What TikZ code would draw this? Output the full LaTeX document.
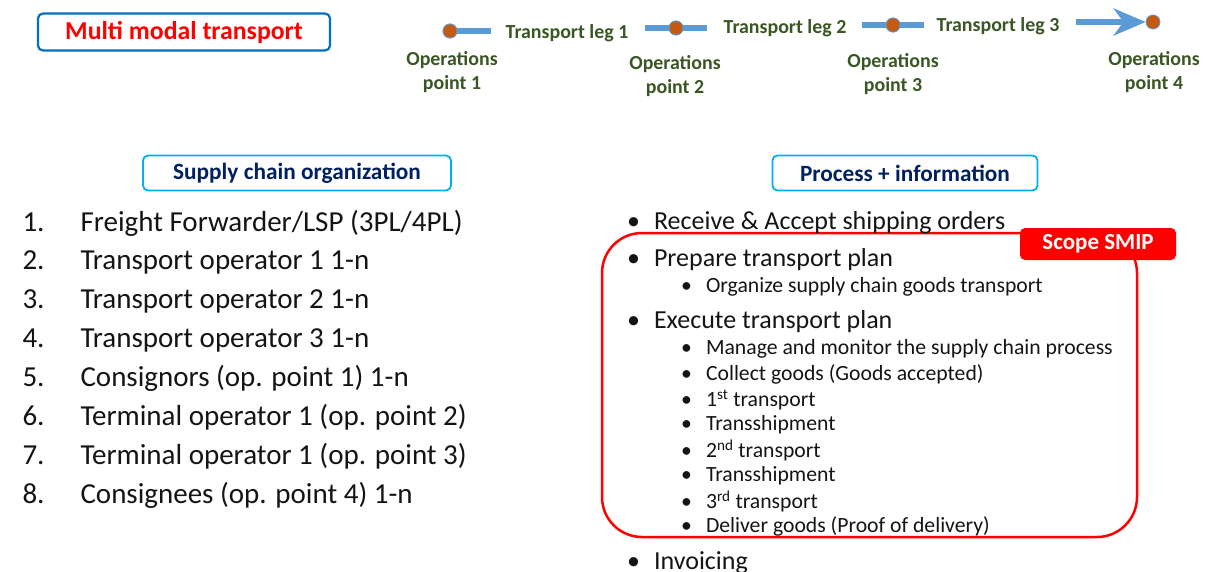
\documentclass[tikz,border=0pt]{standalone}
\usepackage{fontspec}
\setmainfont{Carlito}
\usepackage{tikz}
\usetikzlibrary{arrows.meta,positioning}
\usepackage{xcolor}
\definecolor{legblue}{RGB}{91,155,213}
\definecolor{opbrown}{RGB}{197,90,17}
\definecolor{opgreen}{RGB}{56,87,35}
\definecolor{titleblue}{RGB}{0,112,192}
\definecolor{headcyan}{RGB}{0,176,240}
\definecolor{headnavy}{RGB}{0,32,96}
\definecolor{bodytext}{RGB}{20,20,20}
\newcommand{\fsz}[1]{\fontsize{#1}{#1}\selectfont}
\newcommand{\topbul}{\makebox[27pt][l]{\textbullet}}
\newcommand{\subbul}{\makebox[25pt][l]{\textbullet}}

\tikzset{
  opdot/.style={circle,fill=opbrown,draw=legblue,line width=0.8pt,minimum size=14pt,inner sep=0pt},
  leg/.style={legblue,line width=6pt},
  leglabel/.style={text=opgreen,font=\bfseries\fsz{19.9}},
  oplabel/.style={text=opgreen,font=\bfseries\fontsize{19.9}{24}\selectfont,align=center},
  headbox/.style={draw=headcyan,rounded corners=5pt,line width=1.8pt,text=headnavy,
    font=\bfseries\fsz{23.3},minimum height=35pt},
  orgitem/.style={anchor=base west,text=bodytext,font=\fsz{29}},
  listitem/.style={anchor=west,text=bodytext,font=\fsz{26}},
  subitem/.style={anchor=west,text=bodytext,font=\fsz{21.7}}
}

\begin{document}
\begin{tikzpicture}[x=1pt,y=-1pt]
  \useasboundingbox (0,0) rectangle (1209,571);

  % title
  \node[draw=titleblue,line width=2.2pt,rounded corners=5pt,minimum width=292pt,
        minimum height=37pt,text=red,font=\bfseries\fsz{25.8}] (title) at (184,32)
        {Multi modal transport};

  % transport chain
  \node[opdot] (op1) at (450,31) {};
  \coordinate (leg1e) at (491,31);
  \coordinate (leg2s) at (645,28);
  \node[opdot] (op2) at (676,28) {};
  \coordinate (leg2e) at (707,28);
  \coordinate (leg3s) at (862,25);
  \node[opdot] (op3) at (893,25) {};
  \coordinate (leg3e) at (924,25);
  \coordinate (leg4s) at (1076,22);
  \node[opdot] (op4) at (1153,22) {};

  \draw[leg] (op1.center) -- (leg1e);
  \draw[leg] (leg2s) -- (leg2e);
  \draw[leg] (leg3s) -- (leg3e);
  \draw[leg,-{Stealth[length=32pt,width=27pt,inset=10pt]}] (leg4s) -- (op4.west);
  \node[opdot] at (op1) {};
  \node[opdot] at (op2) {};
  \node[opdot] at (op3) {};

  \node[leglabel] (l1) at (567,33) {Transport leg 1};
  \node[leglabel] (l2) at (785,28) {Transport leg 2};
  \node[leglabel] (l3) at (998,26) {Transport leg 3};

  \node[oplabel] (p1) at (452,72) {Operations\\point 1};
  \node[oplabel] (p2) at (675,76) {Operations\\point 2};
  \node[oplabel] (p3) at (893,74) {Operations\\point 3};
  \node[oplabel] (p4) at (1154,72) {Operations\\point 4};

  % headers
  \node[headbox,minimum width=308pt] (org) at (297,173) {Supply chain organization};
  \node[headbox,minimum width=265pt] (proc) at (905,173) {Process + information};

  % organization list
  \foreach \txt [count=\i] in {Freight Forwarder/LSP (3PL/4PL),
      Transport operator 1 1-n, Transport operator 2 1-n, Transport operator 3 1-n,
      Consignors (op. point 1) 1-n, Terminal operator 1 (op. point 2),
      Terminal operator 1 (op. point 3), Consignees (op. point 4) 1-n}{
    \node[orgitem] (num\i) at (19,192.1+38.9*\i) {\i.};
    \node[orgitem] (org\i) at (77,192.1+38.9*\i) {\txt};
  }

  % scope
  \draw[red,line width=2.5pt,rounded corners=40pt] (602,233) rectangle (1137,537);
  \node[fill=red,rounded corners=5pt,minimum width=156pt,minimum height=32pt,
        text=white,font=\bfseries\fsz{23}] (smip) at (1098,244) {Scope SMIP};

  % process list
  \node[listitem] (pr1) at (623.5,223) {\topbul Receive \& Accept shipping orders};
  \node[listitem] (pr2) at (623.5,260) {\topbul Prepare transport plan};
  \node[subitem] (pr2a) at (677.5,287) {\subbul Organize supply chain goods transport};
  \node[listitem] (pr3) at (623.5,322) {\topbul Execute transport plan};
  \foreach \txt [count=\i] in {Manage and monitor the supply chain process,
      Collect goods (Goods accepted), 1\textsuperscript{st} transport, Transshipment,
      2\textsuperscript{nd} transport, Transshipment, 3\textsuperscript{rd} transport,
      Deliver goods (Proof of delivery)}{
    \node[subitem] (ex\i) at (677.5,323.5+25.4*\i) {\subbul\txt};
  }
  \node[listitem] (pr4) at (623.5,563) {\topbul Invoicing};
\end{tikzpicture}
\end{document}
